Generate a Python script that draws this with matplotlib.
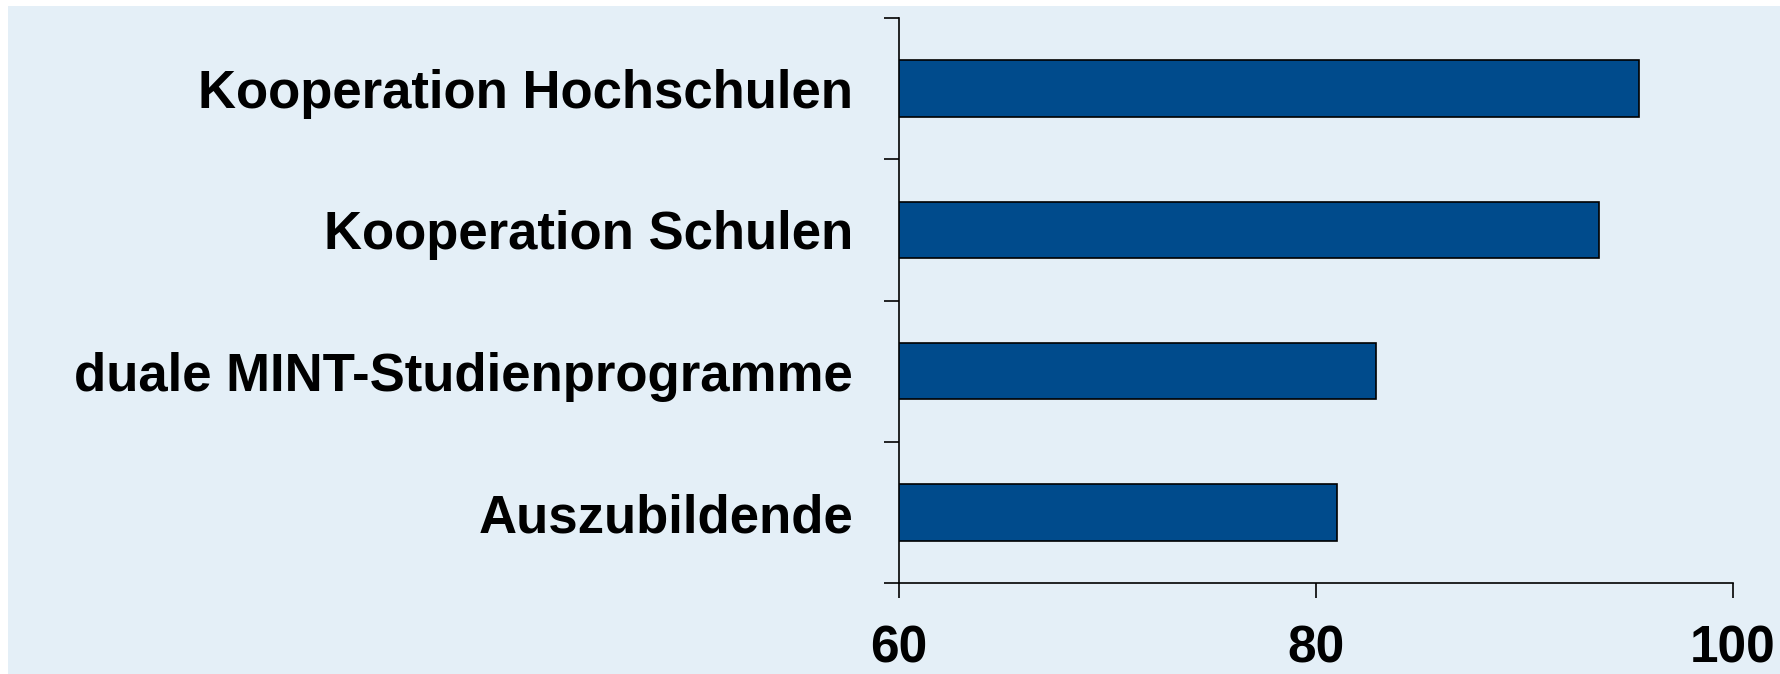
import matplotlib.pyplot as plt
from matplotlib.patches import Rectangle

categories = ['Kooperation Hochschulen', 'Kooperation Schulen',
              'duale MINT-Studienprogramme', 'Auszubildende']
values = [95.5, 93.6, 82.9, 81.0]
xticks = [60, 80, 100]

plt.rcParams['font.family'] = ['Liberation Sans', 'DejaVu Sans']

W, H = 1781, 674
fig = plt.figure(figsize=(W / 100, H / 100), dpi=100)
fig.patch.set_facecolor('white')

# light blue panel, leaving a thin white strip top and left
fig.patches.append(Rectangle((8 / W, 0), 1 - 8 / W, (H - 6) / H,
                             transform=fig.transFigure, facecolor='#e4eff7',
                             edgecolor='none', zorder=-10))

ax = fig.add_axes([899 / W, 1 - 583.3 / H, (1732.7 - 899) / W, (583.3 - 17.7) / H])
ax.set_facecolor('none')

pos = list(range(len(categories)))
ax.barh(pos, values, height=0.4, color='#004b8c', edgecolor='black', linewidth=1.2)

ax.set_xlim(60, 100)
ax.set_ylim(len(categories) - 0.5, -0.5)
ax.set_xticks(xticks)
ax.set_xticklabels([str(t) for t in xticks], fontsize=37, fontweight='bold')

ax.set_yticks([p - 0.5 for p in pos] + [len(categories) - 0.5])
ax.set_yticklabels([])
ax.set_yticks(pos, minor=True)
ax.set_yticklabels(categories, minor=True, fontsize=38, fontweight='bold')

ax.tick_params(axis='y', which='major', direction='out', length=11, width=1.2)
ax.tick_params(axis='y', which='minor', length=0, pad=33)
ax.tick_params(axis='x', direction='out', length=11, width=1.2, pad=19)

for s in ['top', 'right']:
    ax.spines[s].set_visible(False)
for s in ['left', 'bottom']:
    ax.spines[s].set_linewidth(1.2)

fig.savefig('out.png', dpi=100)
